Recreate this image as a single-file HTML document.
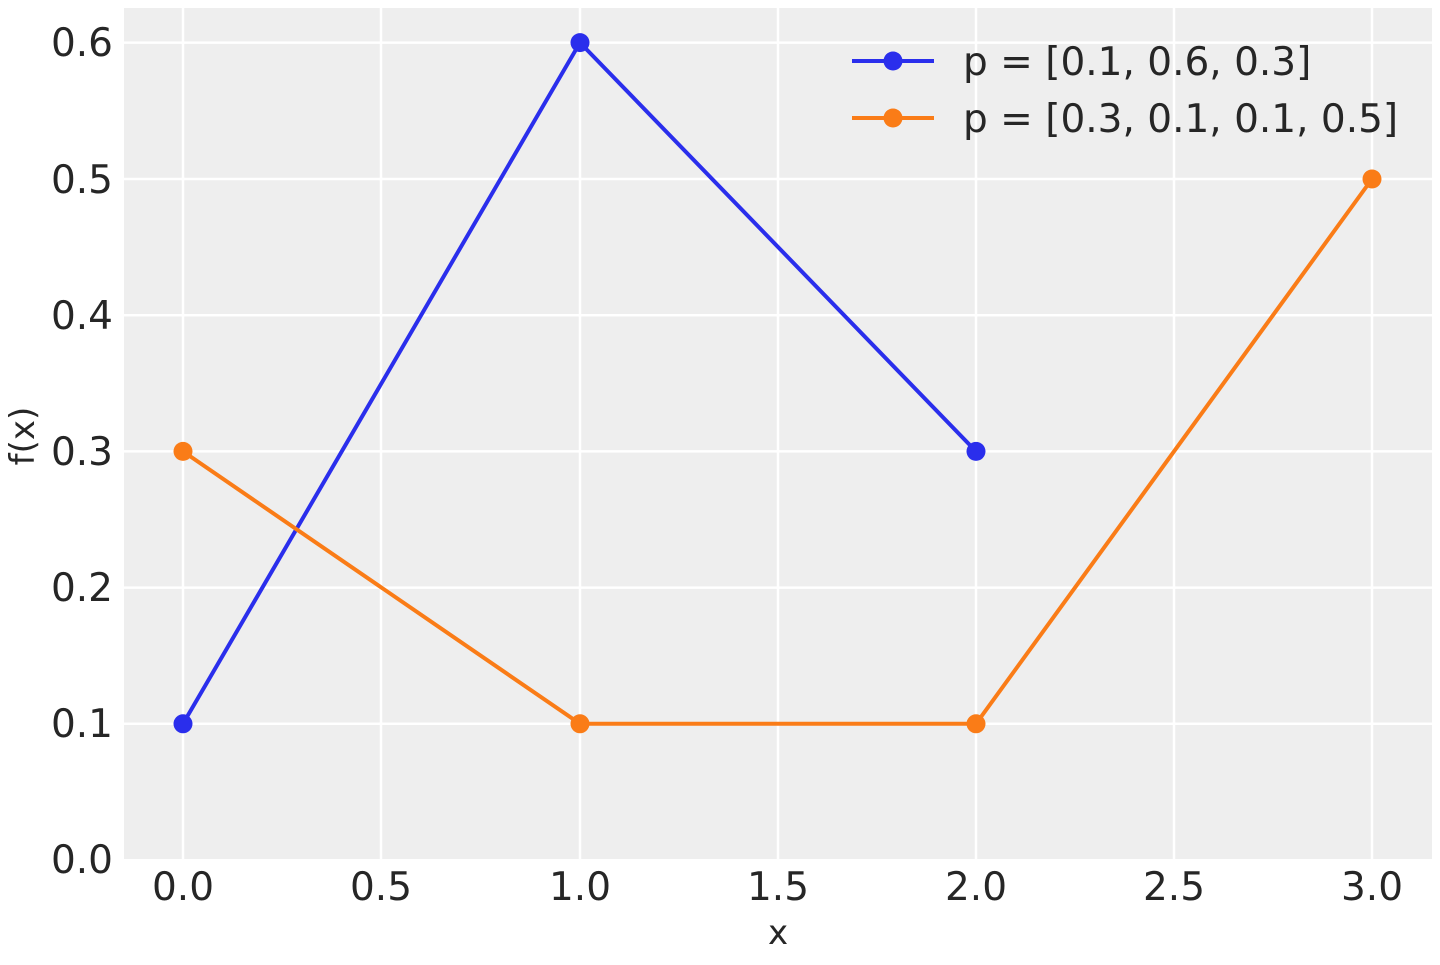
<!DOCTYPE html>
<html><head><style>body{margin:0;background:#fff}</style></head><body>
<svg width="1440" height="960" xmlns="http://www.w3.org/2000/svg" font-family="DejaVu Sans, Liberation Sans, sans-serif" fill="#262626">
<rect x="124" y="8" width="1308" height="851" fill="#eeeeee"/>
<g stroke="#fff" stroke-width="2.5">
<line x1="183" y1="8" x2="183" y2="859"/><line x1="381" y1="8" x2="381" y2="859"/>
<line x1="580" y1="8" x2="580" y2="859"/><line x1="778" y1="8" x2="778" y2="859"/>
<line x1="976" y1="8" x2="976" y2="859"/><line x1="1174" y1="8" x2="1174" y2="859"/>
<line x1="1372" y1="8" x2="1372" y2="859"/>
<line x1="124" y1="723.8" x2="1432" y2="723.8"/><line x1="124" y1="587.6" x2="1432" y2="587.6"/>
<line x1="124" y1="451.4" x2="1432" y2="451.4"/><line x1="124" y1="315.2" x2="1432" y2="315.2"/>
<line x1="124" y1="179" x2="1432" y2="179"/><line x1="124" y1="42.6" x2="1432" y2="42.6"/>
</g>
<g font-size="39" text-anchor="end">
<text x="113" y="873">0.0</text><text x="113" y="737">0.1</text><text x="113" y="601">0.2</text>
<text x="113" y="465">0.3</text><text x="113" y="329">0.4</text><text x="113" y="193">0.5</text><text x="113" y="56">0.6</text>
</g>
<g font-size="39" text-anchor="middle">
<text x="183" y="900">0.0</text><text x="381" y="900">0.5</text><text x="580" y="900">1.0</text>
<text x="778" y="900">1.5</text><text x="976" y="900">2.0</text><text x="1174" y="900">2.5</text><text x="1372" y="900">3.0</text>
<text x="778" y="944" font-size="34">x</text>
</g>
<text x="34" y="436" font-size="34" text-anchor="middle" transform="rotate(-90 34 436)">f(x)</text>
<g fill="none" stroke-width="4">
<polyline points="183,723.8 580,42.6 976,451.4" stroke="#2a2eec"/>
<polyline points="183,451.4 580,723.8 976,723.8 1372,179" stroke="#fa7c17"/>
<line x1="852" y1="61" x2="934" y2="61" stroke="#2a2eec"/>
<line x1="852" y1="118" x2="934" y2="118" stroke="#fa7c17"/>
</g>
<g fill="#2a2eec"><circle cx="183" cy="723.8" r="9.5"/><circle cx="580" cy="42.6" r="9.5"/><circle cx="976" cy="451.4" r="9.5"/><circle cx="893" cy="61" r="9.5"/></g>
<g fill="#fa7c17"><circle cx="183" cy="451.4" r="9.5"/><circle cx="580" cy="723.8" r="9.5"/><circle cx="976" cy="723.8" r="9.5"/><circle cx="1372" cy="179" r="9.5"/><circle cx="893" cy="118" r="9.5"/></g>
<g font-size="39"><text x="963" y="75">p = [0.1, 0.6, 0.3]</text><text x="963" y="132">p = [0.3, 0.1, 0.1, 0.5]</text></g>
</svg>
</body></html>
